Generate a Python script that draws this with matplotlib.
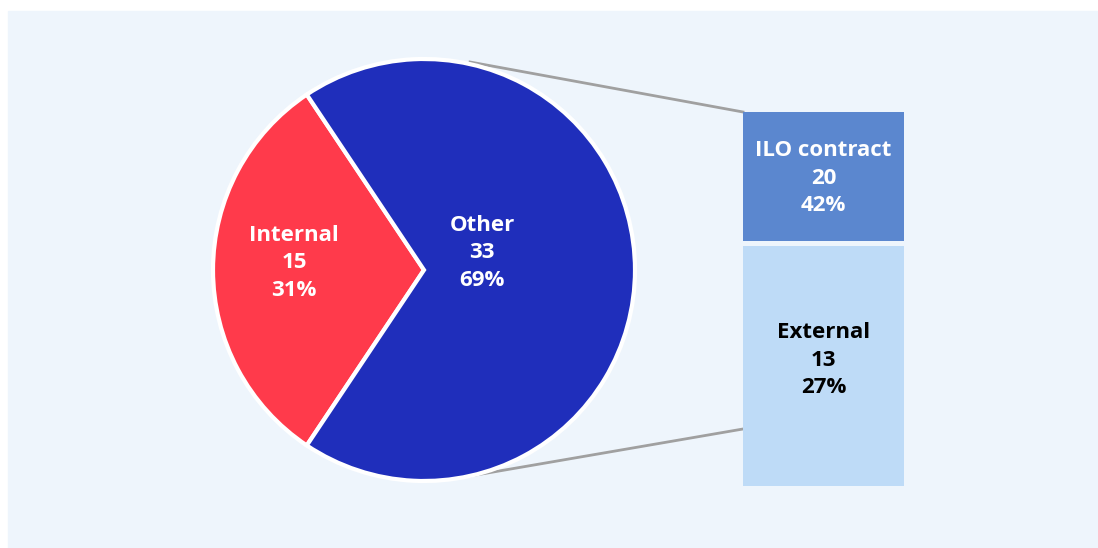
import matplotlib.pyplot as plt
import matplotlib.patches as mpatches

# pie data
pie_labels = ['Internal', 'Other']
pie_values = [15, 33]
pie_colors = ['#FF3A4B', '#1F2EBB']

# breakdown of "Other"
bar_labels = ['External', 'ILO contract']
bar_values = [13, 20]
bar_share = [0.65, 0.35]   # drawn heights
bar_colors = ['#BEDBF7', '#5B87CF']
bar_text_colors = ['black', 'white']

total = sum(pie_values)

plt.rcParams['font.family'] = ['Open Sans', 'Noto Sans', 'DejaVu Sans']

W, H = 1098, 548
fig = plt.figure(figsize=(W / 100, H / 100), dpi=100)
fig.patch.set_facecolor('white')
ax = fig.add_axes([0, 0, 1, 1])

# light panel
ax.add_patch(mpatches.Rectangle((8, 0), 1089, 537, color='#EEF5FC', zorder=0))

# pie
cx, cy, r = 424, 278, 211
internal_angle = 360 * pie_values[0] / total
start = 180 - internal_angle / 2
wedges, _ = ax.pie(pie_values, colors=pie_colors, startangle=start,
                   center=(cx, cy), radius=r, frame=True,
                   wedgeprops=dict(edgecolor='white', linewidth=3))
for w in wedges:
    w.set_zorder(3)
ax.set_xlim(0, W)
ax.set_ylim(0, H)
ax.set_aspect('equal')
ax.axis('off')

font = dict(ha='center', va='center', fontsize=16, fontweight='bold',
            linespacing=1.42, zorder=5)

pie_text_pos = [(294, 285), (482, 295)]
for lab, val, (tx, ty) in zip(pie_labels, pie_values, pie_text_pos):
    ax.text(tx, ty, f'{lab}\n{val}\n{round(100 * val / total)}%',
            color='white', **font)

# stacked bar
bx, bw = 743, 161
b_bottom, b_span, gap = 62, 374, 5
bar_text_y = [188, 370]
bottom = b_bottom
for lab, val, share, col, tcol, ty in zip(bar_labels, bar_values, bar_share,
                                          bar_colors, bar_text_colors, bar_text_y):
    h = share * (b_span - gap)
    ax.bar(bx, h, width=bw, bottom=bottom, align='edge', color=col, zorder=3)
    ax.text(bx + bw / 2, ty, f'{lab}\n{val}\n{round(100 * val / total)}%',
            color=tcol, **font)
    bottom += h + gap

# connector lines
ax.plot([470, bx], [H - 62, H - 112], color='#A0A0A0', lw=2, zorder=2)
ax.plot([470, bx], [H - 476, H - 429], color='#A0A0A0', lw=2, zorder=2)

fig.savefig('out.png', dpi=100, facecolor='white')
